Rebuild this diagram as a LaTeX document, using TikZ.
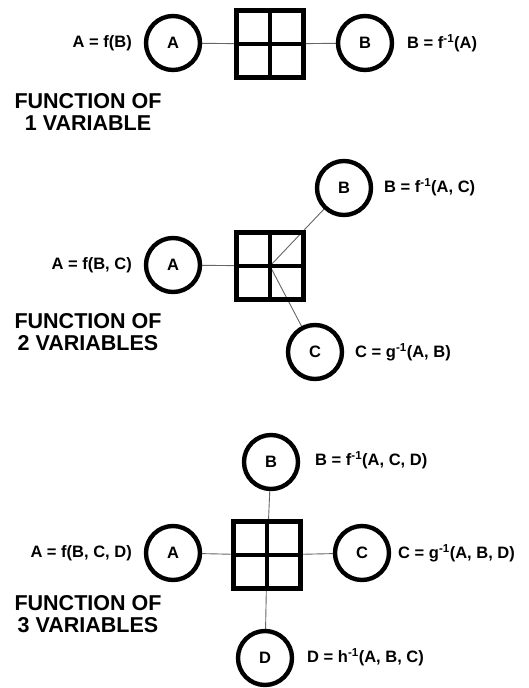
\documentclass[tikz,border=0pt]{standalone}
\usepackage{fontspec}
\setmainfont{Liberation Sans}
\usetikzlibrary{backgrounds}
\tikzset{
  var/.style={circle,draw=black,line width=4.4pt,minimum size=54pt,inner sep=0pt,
              font=\fontsize{16.5}{18}\selectfont\bfseries},
  grid/.style={draw=black,line width=4.4pt,minimum size=67pt,inner sep=0pt},
  gridbar/.style={draw=black,line width=4.4pt},
  conn/.style={draw=black!60,line width=0.9pt},
  lbl/.style={inner sep=0pt,font=\fontsize{16.5}{18}\selectfont\bfseries},
  title/.style={inner sep=0pt,align=center,font=\fontsize{21.5}{22.5}\selectfont\bfseries}
}
\newcommand{\inv}{\textsuperscript{-1}}
\begin{document}
\begin{tikzpicture}[x=1pt,y=-1pt]
\useasboundingbox (0,0) rectangle (528,688);
% ---------- section 1 ----------
\node[grid] (s1) at (270,44) {};
\draw[gridbar] (s1.north) -- (s1.south) (s1.west) -- (s1.east);
\node[var] (a1) at (173,43) {A};
\node[var] (b1) at (365,43) {B};
\node[lbl,anchor=east] (la1) at (132,43) {A = f(B)};
\node[lbl,anchor=west] (lb1) at (407,43) {B = f\inv(A)};
\node[title] (t1) at (88,112) {FUNCTION OF\\1 VARIABLE};
\begin{scope}[on background layer]
\draw[conn] (s1.center) -- (a1);
\draw[conn] (s1.center) -- (b1);
\end{scope}
% ---------- section 2 ----------
\node[grid] (s2) at (270,266) {};
\draw[gridbar] (s2.north) -- (s2.south) (s2.west) -- (s2.east);
\node[var] (a2) at (173,265) {A};
\node[var] (b2) at (344,188) {B};
\node[var] (c2) at (315,352) {C};
\node[lbl,anchor=east] (la2) at (132,265) {A = f(B, C)};
\node[lbl,anchor=west] (lb2) at (384,187) {B = f\inv(A, C)};
\node[lbl,anchor=west] (lc2) at (355,352) {C = g\inv(A, B)};
\node[title] (t2) at (88,332) {FUNCTION OF\\2 VARIABLES};
\begin{scope}[on background layer]
\draw[conn] (s2.center) -- (a2);
\draw[conn] (s2.center) -- (b2);
\draw[conn] (s2.center) -- (c2);
\end{scope}
% ---------- section 3 ----------
\node[grid] (s3) at (267,555) {};
\draw[gridbar] (s3.north) -- (s3.south) (s3.west) -- (s3.east);
\node[var] (a3) at (173,553) {A};
\node[var] (b3) at (271,462) {B};
\node[var] (c3) at (362,553) {C};
\node[var] (d3) at (265,658) {D};
\node[lbl,anchor=east] (la3) at (132,553) {A = f(B, C, D)};
\node[lbl,anchor=west] (lb3) at (315,460) {B = f\inv(A, C, D)};
\node[lbl,anchor=west] (lc3) at (398,553) {C = g\inv(A, B, D)};
\node[lbl,anchor=west] (ld3) at (307,657) {D = h\inv(A, B, C)};
\node[title] (t3) at (88,614) {FUNCTION OF\\3 VARIABLES};
\begin{scope}[on background layer]
\draw[conn] (s3.center) -- (a3);
\draw[conn] (s3.center) -- (b3);
\draw[conn] (s3.center) -- (c3);
\draw[conn] (s3.center) -- (d3);
\end{scope}
\end{tikzpicture}
\end{document}
